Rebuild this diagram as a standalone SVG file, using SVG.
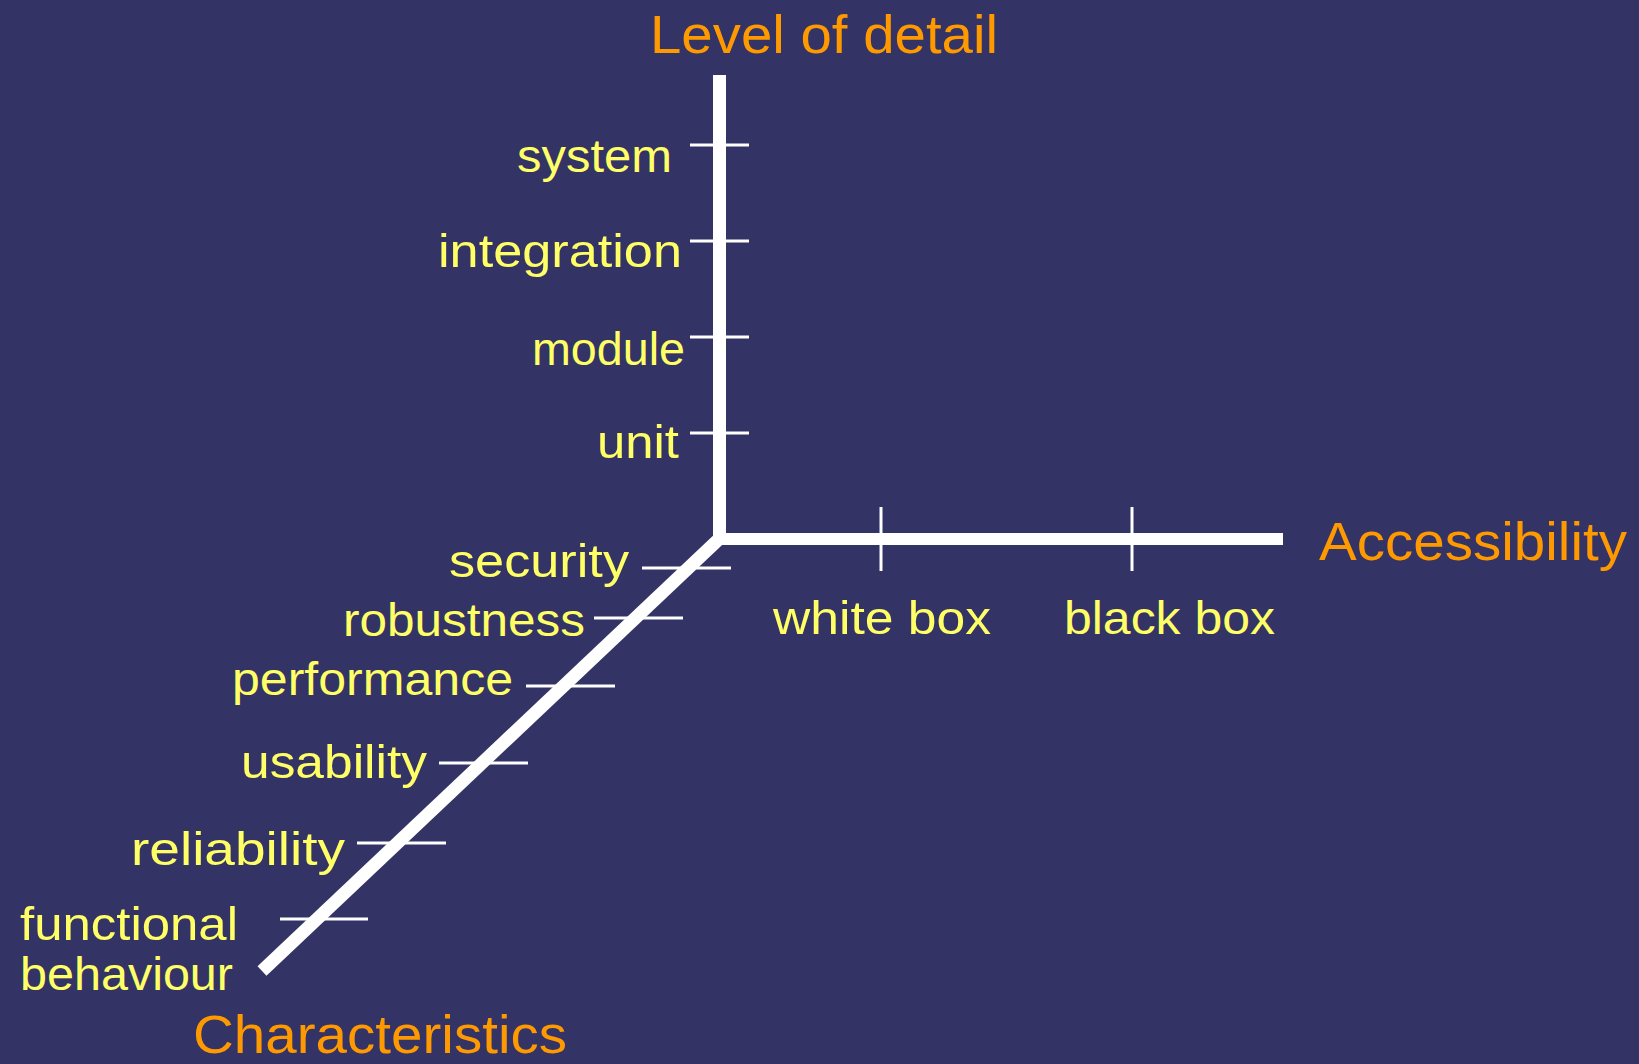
<svg xmlns="http://www.w3.org/2000/svg" width="1639" height="1064" viewBox="0 0 1639 1064">
  <style>
    .axis { stroke: #ffffff; stroke-linecap: butt; fill: none; }
    .tick { stroke: #ffffff; stroke-width: 3; fill: none; }
    .title { font-family: "Liberation Sans", Arial, sans-serif; font-size: 54px; fill: #ff9900; }
    .label { font-family: "Liberation Sans", Arial, sans-serif; font-size: 46px; fill: #ffff66; }
  </style>
  <rect x="0" y="0" width="1639" height="1064" fill="#333366"/>

  <!-- axes and tick marks -->
  <g id="connectors">
    <line class="axis" x1="719.5" y1="75" x2="719.5" y2="545" stroke-width="13"/>
    <line class="axis" x1="713" y1="539" x2="1283" y2="539" stroke-width="12"/>
    <line class="axis" x1="719" y1="539" x2="262" y2="971" stroke-width="13"/>

    <!-- level of detail ticks -->
    <line class="tick" x1="690" y1="145" x2="749" y2="145"/>
    <line class="tick" x1="690" y1="241" x2="749" y2="241"/>
    <line class="tick" x1="690" y1="337" x2="749" y2="337"/>
    <line class="tick" x1="690" y1="433" x2="749" y2="433"/>

    <!-- accessibility ticks -->
    <line class="tick" x1="881" y1="507" x2="881" y2="571"/>
    <line class="tick" x1="1132" y1="507" x2="1132" y2="571"/>

    <!-- characteristics ticks -->
    <line class="tick" x1="642" y1="568" x2="731" y2="568"/>
    <line class="tick" x1="594" y1="618" x2="683" y2="618"/>
    <line class="tick" x1="526" y1="686" x2="615" y2="686"/>
    <line class="tick" x1="439" y1="763" x2="528" y2="763"/>
    <line class="tick" x1="357" y1="843" x2="446" y2="843"/>
    <line class="tick" x1="280" y1="919" x2="368" y2="919"/>
  </g>

  <!-- axis titles -->
  <g id="axis-level">
    <text class="title" x="650" y="53" textLength="348" lengthAdjust="spacingAndGlyphs">Level of detail</text>
  </g>
  <g id="axis-accessibility">
    <text class="title" x="1319" y="560" textLength="308" lengthAdjust="spacingAndGlyphs">Accessibility</text>
  </g>
  <g id="axis-characteristics">
    <text class="title" x="193" y="1053" font-size="50" textLength="374" lengthAdjust="spacingAndGlyphs">Characteristics</text>
  </g>

  <!-- level of detail values -->
  <g id="level-system"><text class="label" x="517" y="172" textLength="155" lengthAdjust="spacingAndGlyphs">system</text></g>
  <g id="level-integration"><text class="label" x="438" y="267" textLength="244" lengthAdjust="spacingAndGlyphs">integration</text></g>
  <g id="level-module"><text class="label" x="532" y="365" textLength="153" lengthAdjust="spacingAndGlyphs">module</text></g>
  <g id="level-unit"><text class="label" x="597" y="458" textLength="82" lengthAdjust="spacingAndGlyphs">unit</text></g>

  <!-- accessibility values -->
  <g id="access-white"><text class="label" x="773" y="634" textLength="218" lengthAdjust="spacingAndGlyphs">white box</text></g>
  <g id="access-black"><text class="label" x="1064" y="634" textLength="211" lengthAdjust="spacingAndGlyphs">black box</text></g>

  <!-- characteristics values -->
  <g id="char-security"><text class="label" x="449" y="577" textLength="180" lengthAdjust="spacingAndGlyphs">security</text></g>
  <g id="char-robustness"><text class="label" x="343" y="636" textLength="242" lengthAdjust="spacingAndGlyphs">robustness</text></g>
  <g id="char-performance"><text class="label" x="232" y="695" textLength="281" lengthAdjust="spacingAndGlyphs">performance</text></g>
  <g id="char-usability"><text class="label" x="241" y="778" textLength="186" lengthAdjust="spacingAndGlyphs">usability</text></g>
  <g id="char-reliability"><text class="label" x="131" y="865" textLength="214" lengthAdjust="spacingAndGlyphs">reliability</text></g>
  <g id="char-functional">
    <text class="label" x="20" y="940" textLength="218" lengthAdjust="spacingAndGlyphs">functional</text>
    <text class="label" x="20" y="990" textLength="213" lengthAdjust="spacingAndGlyphs">behaviour</text>
  </g>
</svg>
